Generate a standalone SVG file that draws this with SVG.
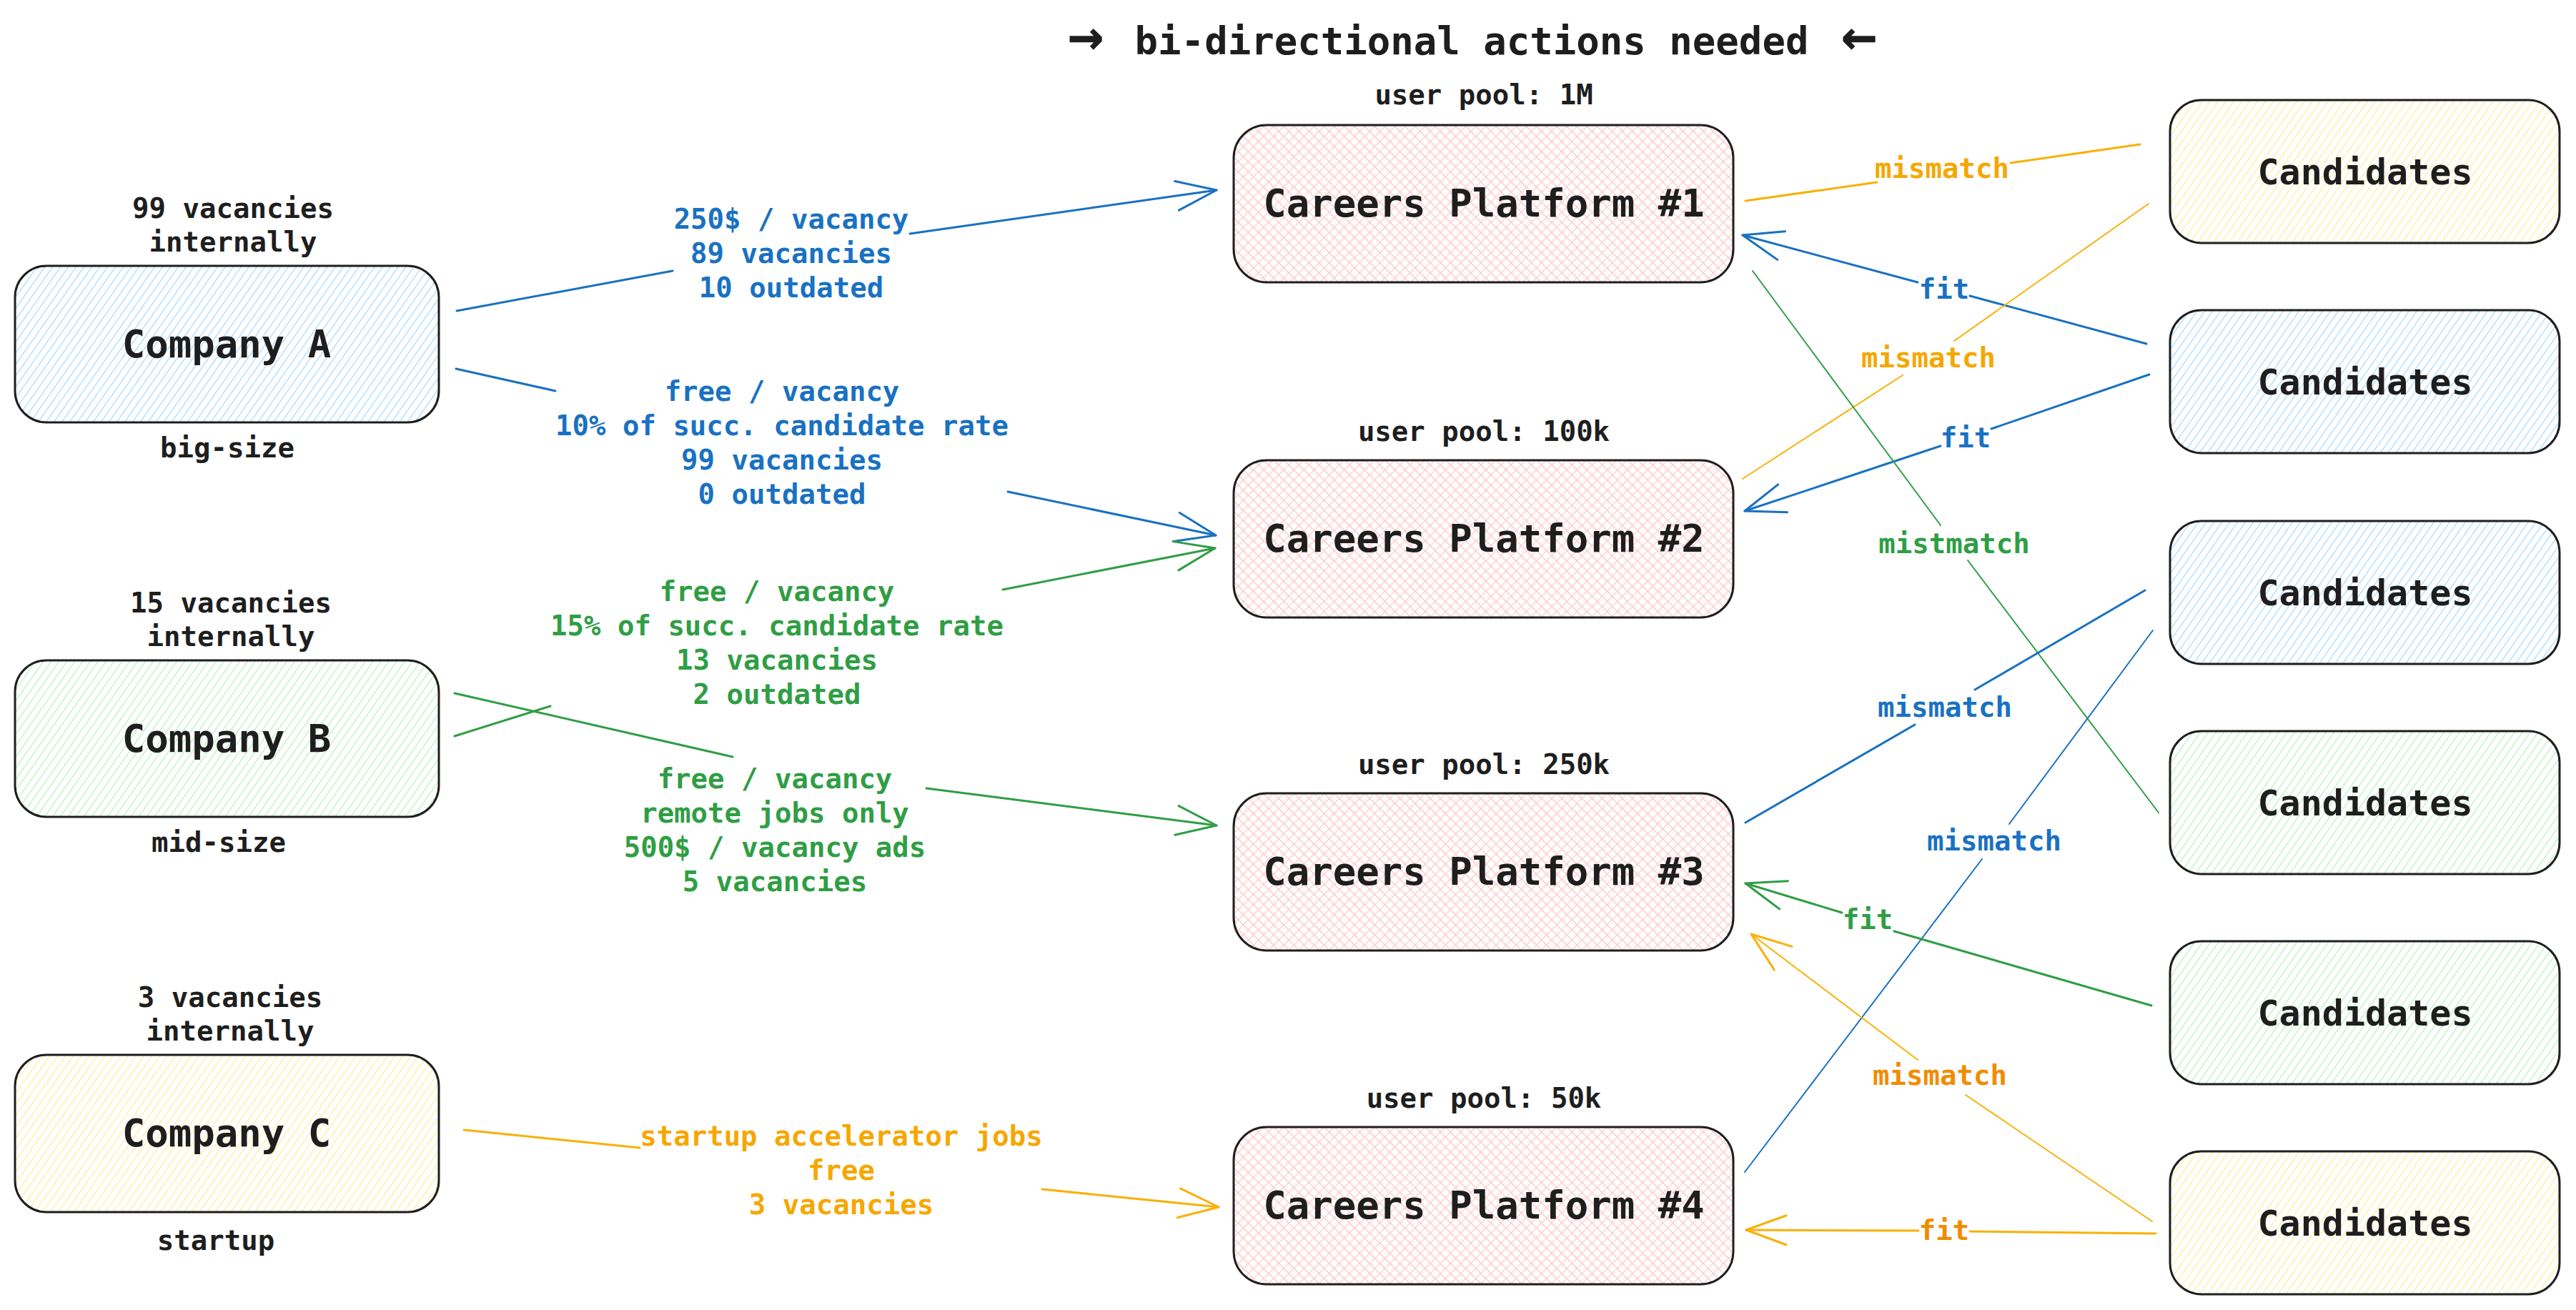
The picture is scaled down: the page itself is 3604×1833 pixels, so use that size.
<svg xmlns="http://www.w3.org/2000/svg" width="3604" height="1833" viewBox="0 0 3604 1833">
<defs>
<style>
text{font-family:"DejaVu Sans Mono","Liberation Mono",monospace;font-weight:bold;text-anchor:middle;fill:#1e1e1e}
.t84{font-size:84px}
.t54{font-size:54px}
.t50{font-size:50px}
.t39{font-size:39px}
.box{stroke:#1e1e1e;stroke-width:3}
.ln{fill:none;stroke-linecap:round}
.blue{stroke:#1971c2}.green{stroke:#2f9e44}.yel{stroke:#fab005}
.w3{stroke-width:3}.w2{stroke-width:2}
.tb{fill:#1971c2}.tg{fill:#2f9e44}.ty{fill:#f5a700}.to{fill:#f08c00}
</style>
<pattern id="hBlue" patternUnits="userSpaceOnUse" width="9" height="9" patternTransform="rotate(35)"><line x1="4.5" y1="0" x2="4.5" y2="9" stroke="#a5d8ff" stroke-width="1.3"/></pattern>
<pattern id="hGreen" patternUnits="userSpaceOnUse" width="9" height="9" patternTransform="rotate(35)"><line x1="4.5" y1="0" x2="4.5" y2="9" stroke="#b2f2bb" stroke-width="1.3"/></pattern>
<pattern id="hYellow" patternUnits="userSpaceOnUse" width="9" height="9" patternTransform="rotate(35)"><line x1="4.5" y1="0" x2="4.5" y2="9" stroke="#ffec99" stroke-width="1.3"/></pattern>
<pattern id="hPink" patternUnits="userSpaceOnUse" width="10" height="10" patternTransform="rotate(45)"><path d="M5,0V10M0,5H10" stroke="#ffc9c9" stroke-width="1.3" fill="none"/></pattern>
<marker id="aB" markerUnits="userSpaceOnUse" orient="auto" viewBox="-70 -70 140 140" markerWidth="140" markerHeight="140" refX="0" refY="0" overflow="visible"><path d="M-56,-20.5L0,0L-56,20.5" fill="none" stroke="#1971c2" stroke-width="3" stroke-linecap="round" stroke-linejoin="round"/></marker>
<marker id="aG" markerUnits="userSpaceOnUse" orient="auto" viewBox="-70 -70 140 140" markerWidth="140" markerHeight="140" refX="0" refY="0" overflow="visible"><path d="M-56,-20.5L0,0L-56,20.5" fill="none" stroke="#2f9e44" stroke-width="3" stroke-linecap="round" stroke-linejoin="round"/></marker>
<marker id="aY" markerUnits="userSpaceOnUse" orient="auto" viewBox="-70 -70 140 140" markerWidth="140" markerHeight="140" refX="0" refY="0" overflow="visible"><path d="M-56,-20.5L0,0L-56,20.5" fill="none" stroke="#fab005" stroke-width="3" stroke-linecap="round" stroke-linejoin="round"/></marker>
</defs>
<rect width="3604" height="1833" fill="#ffffff"/>

<g id="title">
 <text class="t84" x="1519" y="78">→</text>
 <text class="t54" x="2059" y="76">bi-directional actions needed</text>
 <text class="t84" x="2601" y="78">←</text>
</g>

<g id="connectors">
 <g id="c1">
  <path class="ln blue w3" d="M639,435L941,379"/>
  <path class="ln blue w3" d="M1273,327L1702,266" marker-end="url(#aB)"/>
  <text class="t39 tb"><tspan x="1107" y="320">250$ / vacancy</tspan><tspan x="1107" y="368">89 vacancies</tspan><tspan x="1107" y="416">10 outdated</tspan></text>
 </g>
 <g id="c2">
  <path class="ln blue w3" d="M638,516L777,547"/>
  <path class="ln blue w3" d="M1410,688L1701,749" marker-end="url(#aB)"/>
  <text class="t39 tb"><tspan x="1094" y="561">free / vacancy</tspan><tspan x="1094" y="609">10% of succ. candidate rate</tspan><tspan x="1094" y="657">99 vacancies</tspan><tspan x="1094" y="705">0 outdated</tspan></text>
 </g>
 <g id="c3">
  <path class="ln green w3" d="M636,1030L770,988"/>
  <path class="ln green w3" d="M1403,825L1700,767" marker-end="url(#aG)"/>
  <text class="t39 tg"><tspan x="1087" y="841">free / vacancy</tspan><tspan x="1087" y="889">15% of succ. candidate rate</tspan><tspan x="1087" y="937">13 vacancies</tspan><tspan x="1087" y="985">2 outdated</tspan></text>
 </g>
 <g id="c4">
  <path class="ln green w3" d="M636,970L1025,1059"/>
  <path class="ln green w3" d="M1296,1103L1702,1155" marker-end="url(#aG)"/>
  <text class="t39 tg"><tspan x="1084" y="1103">free / vacancy</tspan><tspan x="1084" y="1151">remote jobs only</tspan><tspan x="1084" y="1199">500$ / vacancy ads</tspan><tspan x="1084" y="1247">5 vacancies</tspan></text>
 </g>
 <g id="c5">
  <path class="ln yel w3" d="M649,1581L895,1606"/>
  <path class="ln yel w3" d="M1458,1664L1705,1689" marker-end="url(#aY)"/>
  <text class="t39 ty"><tspan x="1177" y="1603">startup accelerator jobs</tspan><tspan x="1177" y="1651">free</tspan><tspan x="1177" y="1699">3 vacancies</tspan></text>
 </g>
 <g id="c6">
  <path class="ln yel w3" d="M2442,281L2626,255M2813,228L2994,202"/>
  <text class="t39 ty" x="2717" y="249">mismatch</text>
 </g>
 <g id="c7">
  <path class="ln blue w3" d="M3003,481L2756,414"/>
  <path class="ln blue w3" d="M2683,395L2438,329" marker-end="url(#aB)"/>
  <text class="t39 tb" x="2720" y="418">fit</text>
 </g>
 <g id="c8">
  <path class="ln yel w2" d="M3006,285L2734,477M2662,525L2438,670"/>
  <text class="t39 ty" x="2698" y="514">mismatch</text>
 </g>
 <g id="c9">
  <path class="ln blue w3" d="M3007,524L2786,600"/>
  <path class="ln blue w3" d="M2715,624L2441,715" marker-end="url(#aB)"/>
  <text class="t39 tb" x="2750" y="626">fit</text>
 </g>
 <g id="c10">
  <path class="ln green w2" d="M2452,379L2715,735M2753,784L3020,1137"/>
  <text class="t39 tg" x="2734" y="774">mistmatch</text>
 </g>
 <g id="c11">
  <path class="ln blue w3" d="M2442,1151L2679,1014M2763,965L3001,826"/>
  <text class="t39 tb" x="2721" y="1003">mismatch</text>
 </g>
 <g id="c12">
  <path class="ln blue w2" d="M2441,1640L2773,1202M2811,1153L3012,882"/>
  <text class="t39 tb" x="2790" y="1190">mismatch</text>
 </g>
 <g id="c13">
  <path class="ln green w3" d="M3010,1407L2650,1303"/>
  <path class="ln green w3" d="M2577,1277L2442,1236" marker-end="url(#aG)"/>
  <text class="t39 tg" x="2613" y="1300">fit</text>
 </g>
 <g id="c14">
  <path class="ln yel w2" d="M3011,1709L2750,1532"/>
  <path class="ln yel w2" d="M2683,1483L2450,1307" marker-end="url(#aY)"/>
  <text class="t39 to" x="2714" y="1518">mismatch</text>
 </g>
 <g id="c15">
  <path class="ln yel w3" d="M3016,1726L2756,1723"/>
  <path class="ln yel w3" d="M2684,1722L2443,1721" marker-end="url(#aY)"/>
  <text class="t39 to" x="2720" y="1735">fit</text>
 </g>
</g>

<g id="company-a">
 <rect class="box" x="21" y="372" width="593" height="219" rx="44" fill="url(#hBlue)"/>
 <text class="t54" x="317" y="500">Company A</text>
 <text class="t39"><tspan x="326" y="305">99 vacancies</tspan><tspan x="326" y="352">internally</tspan></text>
 <text class="t39" x="318" y="640">big-size</text>
</g>
<g id="company-b">
 <rect class="box" x="21" y="924" width="593" height="219" rx="44" fill="url(#hGreen)"/>
 <text class="t54" x="317" y="1052">Company B</text>
 <text class="t39"><tspan x="323" y="857">15 vacancies</tspan><tspan x="323" y="904">internally</tspan></text>
 <text class="t39" x="306" y="1192">mid-size</text>
</g>
<g id="company-c">
 <rect class="box" x="21" y="1476" width="593" height="220" rx="44" fill="url(#hYellow)"/>
 <text class="t54" x="317" y="1604">Company C</text>
 <text class="t39"><tspan x="322" y="1409">3 vacancies</tspan><tspan x="322" y="1456">internally</tspan></text>
 <text class="t39" x="302" y="1749">startup</text>
</g>

<g id="platform-1">
 <rect class="box" x="1726" y="175" width="699" height="220" rx="46" fill="url(#hPink)"/>
 <text class="t54" x="2076" y="303">Careers Platform #1</text>
 <text class="t39" x="2076" y="146">user pool: 1M</text>
</g>
<g id="platform-2">
 <rect class="box" x="1726" y="644" width="699" height="220" rx="46" fill="url(#hPink)"/>
 <text class="t54" x="2076" y="772">Careers Platform #2</text>
 <text class="t39" x="2076" y="617">user pool: 100k</text>
</g>
<g id="platform-3">
 <rect class="box" x="1726" y="1110" width="699" height="220" rx="46" fill="url(#hPink)"/>
 <text class="t54" x="2076" y="1238">Careers Platform #3</text>
 <text class="t39" x="2076" y="1083">user pool: 250k</text>
</g>
<g id="platform-4">
 <rect class="box" x="1726" y="1577" width="699" height="220" rx="46" fill="url(#hPink)"/>
 <text class="t54" x="2076" y="1705">Careers Platform #4</text>
 <text class="t39" x="2076" y="1550">user pool: 50k</text>
</g>

<g id="candidates-1">
 <rect class="box" x="3036" y="140" width="545" height="200" rx="44" fill="url(#hYellow)"/>
 <text class="t50" x="3309" y="258">Candidates</text>
</g>
<g id="candidates-2">
 <rect class="box" x="3036" y="434" width="545" height="200" rx="44" fill="url(#hBlue)"/>
 <text class="t50" x="3309" y="552">Candidates</text>
</g>
<g id="candidates-3">
 <rect class="box" x="3036" y="729" width="545" height="200" rx="44" fill="url(#hBlue)"/>
 <text class="t50" x="3309" y="847">Candidates</text>
</g>
<g id="candidates-4">
 <rect class="box" x="3036" y="1023" width="545" height="200" rx="44" fill="url(#hGreen)"/>
 <text class="t50" x="3309" y="1141">Candidates</text>
</g>
<g id="candidates-5">
 <rect class="box" x="3036" y="1317" width="545" height="200" rx="44" fill="url(#hGreen)"/>
 <text class="t50" x="3309" y="1435">Candidates</text>
</g>
<g id="candidates-6">
 <rect class="box" x="3036" y="1611" width="545" height="200" rx="44" fill="url(#hYellow)"/>
 <text class="t50" x="3309" y="1729">Candidates</text>
</g>
</svg>
